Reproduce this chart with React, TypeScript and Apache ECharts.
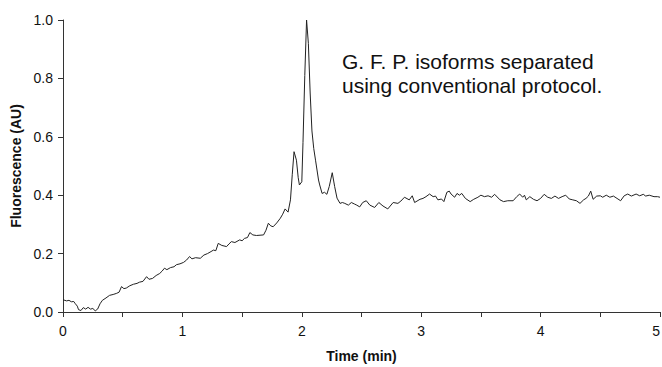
import React, { useEffect, useRef } from "react";
import * as echarts from "echarts";

const times: number[] = [
  0.0, 0.03, 0.05, 0.07, 0.09, 0.1, 0.12, 0.13, 0.15, 0.17, 0.19, 0.21, 0.23, 0.25, 0.27, 0.29,
  0.31, 0.33, 0.36, 0.39, 0.42, 0.45, 0.47, 0.49, 0.51, 0.53, 0.56, 0.59, 0.62, 0.64, 0.67, 0.7,
  0.72, 0.75, 0.78, 0.81, 0.83, 0.85, 0.87, 0.9, 0.93, 0.95, 0.98, 1.01, 1.035, 1.06, 1.08, 1.11,
  1.15, 1.18, 1.21, 1.24, 1.26, 1.28, 1.3, 1.33, 1.37, 1.39, 1.41, 1.44, 1.48, 1.5, 1.52, 1.545,
  1.565, 1.59, 1.62, 1.65, 1.68, 1.7, 1.72, 1.74, 1.76, 1.79, 1.82, 1.84, 1.86, 1.885, 1.905, 1.92,
  1.935, 1.955, 1.97, 1.98, 2.0, 2.01, 2.025, 2.04, 2.055, 2.07, 2.085, 2.1, 2.115, 2.14, 2.15, 2.17,
  2.19, 2.21, 2.23, 2.255, 2.275, 2.295, 2.32, 2.34, 2.36, 2.39, 2.415, 2.44, 2.46, 2.485, 2.51, 2.54,
  2.57, 2.61, 2.645, 2.68, 2.72, 2.765, 2.805, 2.83, 2.86, 2.9, 2.925, 2.945, 2.99, 3.015, 3.04, 3.07,
  3.1, 3.12, 3.14, 3.17, 3.19, 3.215, 3.235, 3.25, 3.28, 3.3, 3.32, 3.34, 3.37, 3.41, 3.44, 3.475,
  3.5, 3.53, 3.56, 3.59, 3.615, 3.66, 3.69, 3.725, 3.77, 3.8, 3.825, 3.85, 3.865, 3.88, 3.91, 3.94,
  3.97, 4.0, 4.03, 4.06, 4.09, 4.12, 4.15, 4.18, 4.21, 4.24, 4.27, 4.3, 4.33, 4.36, 4.38, 4.4,
  4.42, 4.44, 4.47, 4.5, 4.52, 4.55, 4.58, 4.61, 4.64, 4.67, 4.7, 4.73, 4.76, 4.8, 4.83, 4.86,
  4.88, 4.91, 4.95, 4.98, 5.0,
];

const fluorescence: number[] = [
  0.042, 0.038, 0.04, 0.035, 0.036, 0.03, 0.02, 0.008, 0.005, 0.015, 0.01, 0.016, 0.01, 0.012, 0.004, 0.01,
  0.028, 0.04, 0.048, 0.057, 0.06, 0.064, 0.068, 0.087, 0.08, 0.082, 0.09, 0.095, 0.098, 0.102, 0.105, 0.121,
  0.112, 0.115, 0.125, 0.132, 0.14, 0.15, 0.145, 0.152, 0.155, 0.162, 0.165, 0.17, 0.178, 0.19, 0.182, 0.186,
  0.184, 0.195, 0.2, 0.207, 0.212, 0.21, 0.235, 0.228, 0.224, 0.233, 0.241, 0.238, 0.247, 0.244, 0.252, 0.255,
  0.272, 0.264, 0.262, 0.263, 0.264, 0.28, 0.304, 0.295, 0.292, 0.305, 0.321, 0.335, 0.353, 0.342, 0.384, 0.47,
  0.549, 0.52, 0.46, 0.435, 0.446, 0.58, 0.81, 1.0, 0.92, 0.75, 0.62, 0.56, 0.52, 0.452, 0.435, 0.406,
  0.41, 0.403, 0.43, 0.477, 0.43, 0.39, 0.372, 0.375, 0.372, 0.366, 0.375, 0.37, 0.366, 0.36, 0.375, 0.381,
  0.366, 0.358, 0.375, 0.363, 0.353, 0.375, 0.372, 0.38, 0.393, 0.384, 0.398, 0.375, 0.386, 0.389, 0.395, 0.404,
  0.395, 0.397, 0.384, 0.387, 0.378, 0.41, 0.414, 0.404, 0.393, 0.406, 0.4, 0.406, 0.389, 0.378, 0.386, 0.393,
  0.4, 0.395, 0.398, 0.393, 0.403, 0.384, 0.378, 0.381, 0.381, 0.395, 0.404, 0.393, 0.4, 0.384, 0.395, 0.386,
  0.381, 0.389, 0.403, 0.393, 0.389, 0.397, 0.389, 0.395, 0.4, 0.387, 0.384, 0.381, 0.372, 0.384, 0.389, 0.397,
  0.414, 0.386, 0.397, 0.398, 0.393, 0.4, 0.393, 0.397, 0.389, 0.381, 0.398, 0.404, 0.397, 0.404, 0.398, 0.403,
  0.397, 0.4, 0.395, 0.395, 0.393,
];

const annotationLines: string[] = [
  "G. F. P. isoforms separated",
  "using conventional protocol.",
];

const xAxisTitle = "Time (min)";
const yAxisTitle = "Fluorescence (AU)";

const FONT = "'Liberation Sans', Arial, sans-serif";

export default function App() {
  const ref = useRef<HTMLDivElement>(null);

  useEffect(() => {
    if (!ref.current) return;
    const chart = echarts.init(ref.current, null, { renderer: "svg" });
    const data = times.map((t, i) => [t, fluorescence[i]]);
    chart.setOption({
      animation: false,
      backgroundColor: "#ffffff",
      grid: {
        left: 63,
        right: 2,
        top: 20,
        bottom: 55,
        containLabel: false,
        outerBoundsMode: "none",
      },
      xAxis: {
        type: "value",
        min: 0,
        max: 5,
        interval: 1,
        name: xAxisTitle,
        nameLocation: "middle",
        nameGap: 37,
        nameTextStyle: { fontFamily: FONT, fontSize: 14, fontWeight: "bold", color: "#111" },
        axisLine: { show: true, lineStyle: { color: "#333", width: 1 } },
        axisTick: { show: true, length: 5, lineStyle: { color: "#333" } },
        minorTick: { show: true, splitNumber: 2, length: 5, lineStyle: { color: "#333" } },
        axisLabel: {
          fontFamily: FONT,
          fontSize: 14,
          color: "#111",
          margin: 12,
          hideOverlap: false,
          alignMaxLabel: "right",
        },
        splitLine: { show: false },
      },
      yAxis: {
        type: "value",
        min: 0,
        max: 1,
        interval: 0.2,
        name: yAxisTitle,
        nameLocation: "middle",
        nameGap: 39,
        nameTextStyle: { fontFamily: FONT, fontSize: 14, fontWeight: "bold", color: "#111" },
        axisLine: { show: true, lineStyle: { color: "#333", width: 1 } },
        axisTick: { show: true, length: 5, lineStyle: { color: "#333" } },
        axisLabel: {
          fontFamily: FONT,
          fontSize: 14,
          color: "#111",
          margin: 10,
          formatter: (v: number) => v.toFixed(1),
        },
        splitLine: { show: false },
      },
      graphic: [
        {
          type: "text",
          left: 342,
          top: 49,
          style: {
            text: annotationLines.join("\n"),
            font: `21px ${FONT}`,
            lineHeight: 24,
            fill: "#111",
          },
        },
      ],
      series: [
        {
          type: "line",
          data,
          showSymbol: false,
          symbol: "none",
          lineStyle: { color: "#222", width: 1 },
        },
      ],
    });
    return () => chart.dispose();
  }, []);

  return (
    <div
      ref={ref}
      style={{ position: "absolute", left: 0, top: 0, width: 662, height: 367 }}
    />
  );
}
